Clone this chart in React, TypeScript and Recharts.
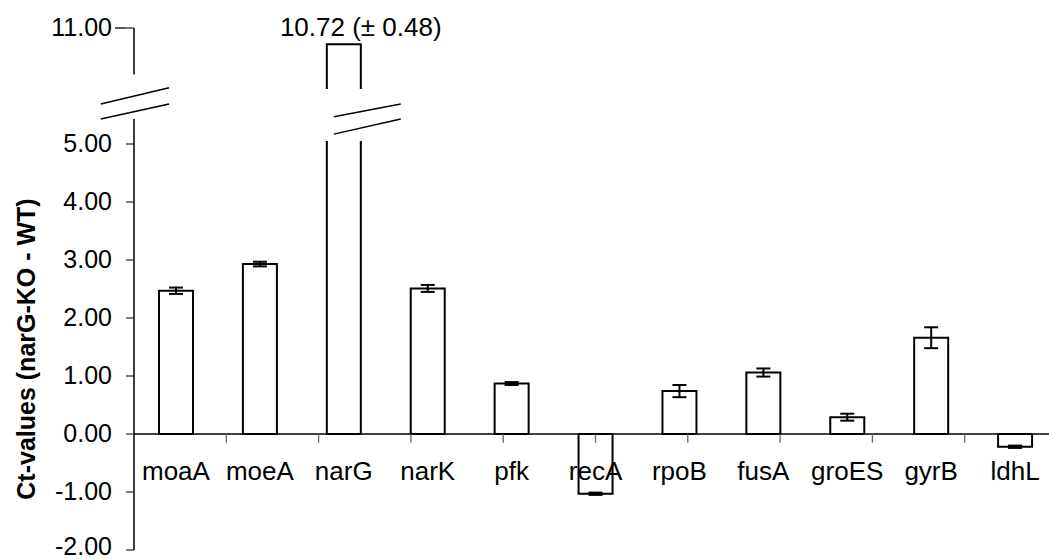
import React from 'react'
import { BarChart, Bar, XAxis, YAxis, ErrorBar, ReferenceLine, ReferenceDot, Rectangle } from 'recharts'

const genes = ['moaA', 'moeA', 'narG', 'narK', 'pfk', 'recA', 'rpoB', 'fusA', 'groES', 'gyrB', 'ldhL']
const ctValues = [2.47, 2.93, 10.72, 2.51, 0.87, -1.03, 0.74, 1.06, 0.29, 1.66, -0.22]
const ctErrors = [0.055, 0.04, 0.48, 0.06, 0.025, 0.02, 0.105, 0.07, 0.06, 0.18, 0.02]
const yTicks = [-2, -1, 0, 1, 2, 3, 4, 5, 11]

// broken axis: values above 5 are drawn shifted down by 4
const AXIS_BREAK = 5
const UPPER_SHIFT = 4
const toAxis = (v: number) => (v > AXIS_BREAK ? v - UPPER_SHIFT : v)
const fromAxis = (v: number) => (v > AXIS_BREAK ? v + UPPER_SHIFT : v)

const BROKEN = 'narG'
const FONT = '"Liberation Sans", Arial, sans-serif'

const data = genes.map((gene, i) => ({
  gene,
  value: toAxis(ctValues[i]),
  err: gene === BROKEN ? null : ctErrors[i],
}))

function YTick(props: any) {
  const { x, y, payload } = props
  const real = fromAxis(payload.value)
  // lowest label sits right at the bottom edge, nudge it up a little
  const dy = real === yTicks[0] ? '0.2em' : '0.33em'
  return (
    <g>
      {real > AXIS_BREAK && <line x1={x + 3} x2={x + 14} y1={y} y2={y} stroke="#000" strokeWidth={1.3} />}
      <text x={x} y={y} dy={dy} textAnchor="end" fontSize={25} fontFamily={FONT} fill="#000">
        {real.toFixed(2)}
      </text>
    </g>
  )
}

function BarShape(props: any) {
  const { x, y, width, height, payload } = props
  if (payload?.gene !== BROKEN) {
    return <Rectangle x={x} y={y} width={width} height={height} fill="#fff" stroke="#000" strokeWidth={2} />
  }
  // draw the broken bar in two pieces
  const zeroY = y + height
  const ppu = height / payload.value
  const lowTop = zeroY - 5.05 * ppu
  const upBottom = zeroY - 5.95 * ppu
  const d = `M${x},${lowTop} V${zeroY} H${x + width} V${lowTop} M${x},${upBottom} V${y} H${x + width} V${upBottom}`
  return <path d={d} fill="none" stroke="#000" strokeWidth={2} />
}

const seg = (x1: number, y1: number, x2: number, y2: number) => [
  { x: x1, y: y1 },
  { x: x2, y: y2 },
]

const axisSegments = [
  seg(0, -2, 0, 5.43),
  seg(0, 6.2, 0, 7),
  seg(-0.36, 5.69, 0.38, 5.97),
  seg(-0.36, 5.43, 0.38, 5.69),
  seg(2.165, 5.47, 2.89, 5.69),
  seg(2.165, 5.17, 2.89, 5.43),
]

export default function App() {
  const narGIndex = genes.indexOf(BROKEN)
  return (
    <div style={{ position: 'absolute', left: 0, top: 0, width: 1049, height: 559, overflow: 'hidden', background: '#fff' }}>
      <BarChart width={1060} height={559} data={data} margin={{ top: 28, right: 3, bottom: 9, left: 0 }} barSize={34}>
        <XAxis dataKey="gene" hide />
        <XAxis xAxisId="pos" type="number" domain={[0, 11]} hide allowDataOverflow />
        <YAxis
          type="number"
          domain={[-2, 7]}
          ticks={yTicks.map(toAxis)}
          allowDataOverflow
          width={134}
          axisLine={false}
          tickSize={8}
          tickMargin={14}
          tickLine={{ stroke: '#333', strokeWidth: 1.3 }}
          tick={<YTick />}
          interval={0}
          label={{
            content: () => (
              <text
                x={35}
                y={349}
                transform="rotate(-90 35 349)"
                textAnchor="middle"
                fontSize={25}
                fontWeight="bold"
                fontFamily={FONT}
                fill="#000"
              >
                Ct-values (narG-KO - WT)
              </text>
            ),
          }}
        />
        <ReferenceLine y={0} stroke="#000" strokeWidth={1.3} ifOverflow="visible" />
        {genes.slice(1).map((g, i) => (
          <ReferenceLine
            key={`tick-${g}`}
            xAxisId="pos"
            segment={seg(i + 1, 0, i + 1, -0.15)}
            stroke="#666"
            strokeWidth={1.3}
            ifOverflow="visible"
          />
        ))}
        {axisSegments.map((s, i) => (
          <ReferenceLine key={`ax-${i}`} xAxisId="pos" segment={s} stroke="#000" strokeWidth={1.5} ifOverflow="visible" />
        ))}
        <Bar dataKey="value" fill="#fff" stroke="#000" strokeWidth={2} shape={<BarShape />} isAnimationActive={false}>
          <ErrorBar dataKey="err" width={7} strokeWidth={2} stroke="#000" />
        </Bar>
        {genes.map((g) => (
          <ReferenceDot
            key={`lbl-${g}`}
            x={g}
            y={0}
            r={0}
            fill="none"
            stroke="none"
            ifOverflow="visible"
            label={{
              content: (p: any) => (
                <text x={p.viewBox.x} y={p.viewBox.y + 46} textAnchor="middle" fontSize={26} fontFamily={FONT} fill="#000">
                  {g}
                </text>
              ),
            }}
          />
        ))}
        <ReferenceDot
          x={BROKEN}
          y={toAxis(ctValues[narGIndex])}
          r={0}
          fill="none"
          stroke="none"
          ifOverflow="visible"
          label={{
            content: (p: any) => (
              <text x={p.viewBox.x + 17} y={p.viewBox.y - 8} textAnchor="middle" fontSize={26} fontFamily={FONT} fill="#000">
                {`${ctValues[narGIndex].toFixed(2)} (± ${ctErrors[narGIndex].toFixed(2)})`}
              </text>
            ),
          }}
        />
      </BarChart>
    </div>
  )
}
